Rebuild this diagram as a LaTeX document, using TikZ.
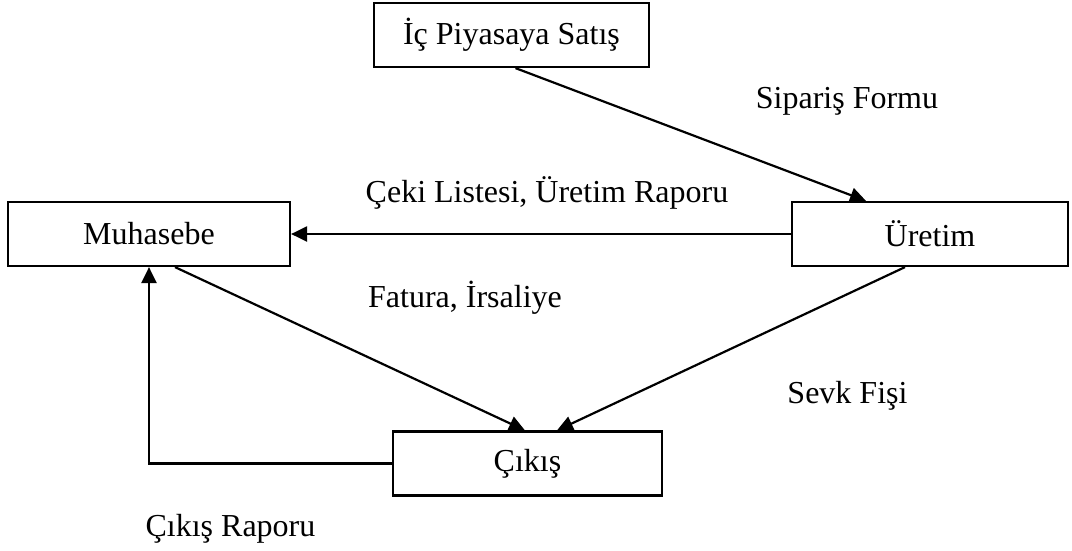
\documentclass[tikz,border=0pt]{standalone}
\usepackage{fontspec}
\setmainfont{Liberation Serif}
\usetikzlibrary{arrows.meta,calc}
\begin{document}
\begin{tikzpicture}[x=1pt,y=-1pt,
  box/.style={draw,line width=2.2pt,rectangle,inner sep=0pt,minimum height=64pt},
  conn/.style={line width=2.2pt,-{Triangle[length=16pt,width=15pt]}},
  lbl/.style={inner sep=0pt,anchor=base},
  every node/.style={font=\fontsize{32}{38}\selectfont}]
\useasboundingbox (0,0) rectangle (1072,550);
\node[box,minimum width=275pt] (ic) at (511.5,35) {İç Piyasaya Satış};
\node[box,minimum width=282pt] (muh) at (149,234) {Muhasebe};
\node[box,minimum width=276pt] (ure) at (930,234) {Üretim};
\node[box,minimum width=269pt] (cik) at (527.5,463.5) {Çıkış};
\draw[conn] ([xshift=4pt]ic.south) -- ([xshift=-64pt]ure.north);
\draw[conn] (ure.west) -- (muh.east);
\draw[conn] ([xshift=26pt]muh.south) -- ([xshift=-2.5pt]cik.north);
\draw[conn] ([xshift=-25pt]ure.south) -- ([xshift=29.5pt]cik.north);
\draw[conn] (cik.west) -| (muh.south);
\node[lbl] (l1) at (847,108) {Sipariş Formu};
\node[lbl] (l2) at (547,202) {Çeki Listesi, Üretim Raporu};
\node[lbl] (l3) at (465,307) {Fatura, İrsaliye};
\node[lbl] (l4) at (847.5,403) {Sevk Fişi};
\node[lbl] (l5) at (230.5,536) {Çıkış Raporu};
\end{tikzpicture}
\end{document}
